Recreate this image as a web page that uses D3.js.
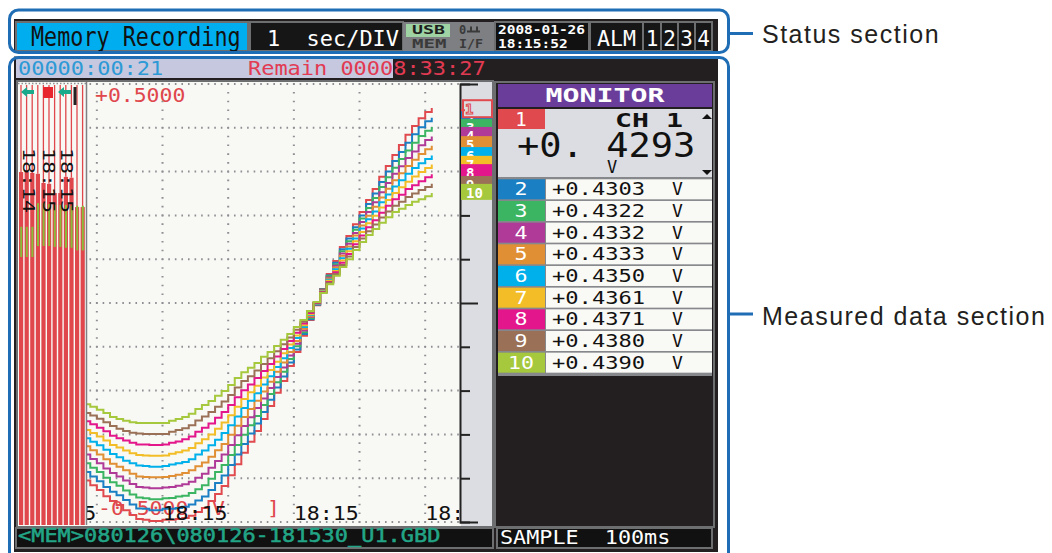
<!DOCTYPE html>
<html>
<head>
<meta charset="utf-8">
<script src="https://cdn.jsdelivr.net/npm/d3@7"></script>
<style>
  html, body { margin: 0; padding: 0; background: #fff; }
  svg { display: block; }
  text { white-space: pre; }
</style>
</head>
<body>
<svg id="chart" width="1052" height="553"></svg>
<script>
// ---- data (mV, one sample per 100 ms) ----
const channelNames = ["1", "2", "3", "4", "5", "6", "7", "8", "9", "10"];
const channelColors = ["#e04a4e", "#1b7fc4", "#3bb562", "#b03a98", "#e08f34",
	"#00b0ea", "#f2bd26", "#e4168b", "#9a7056", "#a5c83c"];

const ch1 = [-405,-416,-427,-441,-452,-461,-473,-484,-493,-495,-498,-498,-495,-495,-493,-491,-486,-477,-468,-452,-436,-418,-393,-368,-342,-317,-292,-265,-235,-205,-178,-144,-112,-75,-39,-5,32,66,96,128,153,180,208,235,260,288,313,338,361,384,404,422,436,445];
const ch2 = [-386,-396,-407,-420,-431,-439,-450,-460,-469,-470,-473,-473,-470,-470,-468,-465,-460,-451,-442,-427,-411,-394,-370,-346,-322,-298,-275,-249,-221,-193,-168,-136,-106,-71,-37,-4,31,63,92,123,147,173,200,226,250,276,300,324,345,366,385,401,415,423];
const ch3 = [-366,-376,-386,-399,-409,-417,-428,-437,-444,-446,-448,-448,-446,-445,-442,-440,-434,-425,-416,-401,-386,-370,-347,-324,-301,-279,-258,-233,-208,-181,-157,-128,-99,-67,-34,-3,30,61,88,118,141,167,193,217,240,265,287,309,329,348,366,381,393,402];
const ch4 = [-346,-356,-366,-378,-388,-396,-405,-413,-420,-421,-423,-423,-421,-420,-417,-414,-408,-399,-390,-376,-361,-346,-324,-302,-281,-261,-240,-218,-194,-169,-147,-120,-93,-63,-32,-3,29,58,85,113,135,160,185,208,230,253,274,295,312,331,346,360,372,380];
const ch5 = [-327,-336,-346,-357,-367,-374,-382,-390,-396,-397,-398,-398,-397,-395,-392,-388,-382,-373,-364,-351,-336,-322,-301,-280,-260,-242,-223,-202,-180,-157,-136,-112,-87,-59,-30,-2,28,56,81,108,129,154,177,199,220,241,261,280,296,313,327,340,351,359];
const ch6 = [-309,-317,-325,-335,-345,-352,-360,-366,-371,-372,-374,-374,-372,-369,-366,-363,-357,-346,-337,-325,-312,-297,-279,-259,-240,-223,-206,-186,-167,-146,-126,-103,-80,-55,-27,-1,27,53,77,102,124,147,170,191,209,230,248,266,280,295,308,319,329,337];
const ch7 = [-290,-297,-305,-314,-324,-330,-337,-343,-347,-348,-349,-349,-348,-344,-341,-337,-331,-320,-311,-300,-287,-273,-256,-237,-219,-204,-189,-170,-153,-134,-115,-95,-74,-51,-25,0,26,51,73,97,118,141,162,182,199,218,235,251,264,277,289,299,308,316];
const ch8 = [-270,-277,-285,-293,-303,-309,-314,-319,-323,-323,-324,-324,-323,-319,-316,-311,-305,-294,-285,-275,-262,-249,-233,-215,-199,-186,-171,-155,-139,-122,-105,-87,-68,-47,-23,0,25,48,70,92,112,134,154,173,189,206,222,237,247,260,269,278,287,294];
const ch9 = [-251,-257,-264,-272,-281,-287,-292,-296,-298,-299,-299,-299,-299,-294,-290,-286,-279,-268,-259,-249,-237,-225,-210,-193,-178,-167,-154,-139,-126,-110,-94,-79,-61,-43,-20,1,24,46,66,87,106,128,147,164,179,195,209,222,231,242,250,258,265,272];
const ch10 = [-231,-237,-244,-251,-260,-265,-269,-272,-274,-274,-274,-274,-274,-269,-265,-260,-253,-242,-233,-224,-212,-201,-187,-171,-158,-148,-137,-123,-112,-98,-84,-71,-55,-39,-18,2,23,43,62,82,100,121,139,155,169,183,196,208,215,224,231,237,244,251];
const traces = [ch1, ch2, ch3, ch4, ch5, ch6, ch7, ch8, ch9, ch10];

const sampleStart = -0.2;     // s, relative to the first grid line
const sampleInterval = 0.1;   // s  (SAMPLE 100ms)

const monitorValues = ["+0.4293", "+0.4303", "+0.4322", "+0.4332", "+0.4333",
	"+0.4350", "+0.4361", "+0.4371", "+0.4380", "+0.4390"];

// channel marker tags in the scale panel (mV of each tag's top)
const tagLevels = [463, 441, 420, 402, 381, 356, 336, 317, 290, 272];

// time ticks (s) and their label
const timeTicks = [-1, 1, 3, 5];
const timeLabel = "18:15";

// bar strip at the left of the graph (mV)
const stripeLevels = [299, 299, 297, 295, 274, 272, 251, 251, 288, 286, 219, 219];
const greenTops = [174, 174, 174, 228, 228, 226, 224, 224, 224, 222, 222, 222];
const greenBottoms = [105, 105, 105, 130, 130, 130, 128, 128, 126, 126, 120, 120];
const stripTimes = ["18:14", "18:15", "18:15"];

// ---------------------------------------------------------------------

const mono = "'DejaVu Sans Mono', 'Liberation Mono', monospace";
const sans = "'Liberation Sans', Arial, Helvetica, sans-serif";
const ink = "#231f20", frame = "#6d6e70", blue = "#1f6db5";

const svg = d3.select("#chart");

function label(g, str, x, y, o) {
	o = o || {};
	const t = g.append("text")
		.attr("x", x)
		.attr("y", y)
		.attr("font-family", o.family || mono)
		.attr("font-size", o.size || 19)
		.attr("font-weight", o.weight || "normal")
		.attr("fill", o.fill || "#000")
		.attr("text-anchor", o.anchor || "start")
		.text(str);
	if (o.adv)
		t.attr("textLength", str.length * o.adv).attr("lengthAdjust", "spacingAndGlyphs");
	return t;
}

function box(g, x, y, w, h, fill, stroke) {
	return g.append("rect")
		.attr("x", x).attr("y", y)
		.attr("width", w).attr("height", h)
		.attr("fill", fill)
		.attr("stroke", stroke || "none")
		.attr("stroke-width", stroke ? 2 : 0);
}

svg.append("rect").attr("width", 1052).attr("height", 553).attr("fill", "#fff");

const screen = svg.append("g");
box(screen, 14, 19, 704, 533, ink);

// ---- status row ----
box(screen, 16, 22, 232, 29, "#00aeef", frame);
label(screen, "Memory Recording", 31, 46, { size: 27, adv: 13.1, fill: "#111" });

box(screen, 250, 22, 153, 29, "#161616", frame);
label(screen, "1  sec/DIV", 267, 46, { size: 21, adv: 13.2, fill: "#fff" });

box(screen, 403, 22, 92, 29, "#7d7f82");
box(screen, 406, 24, 44, 13, "#9fd3a4");
label(screen, "USB", 412, 34, { size: 12, weight: "bold", adv: 11, fill: "#1e1e1e" });
label(screen, "MEM", 412, 48, { size: 12, weight: "bold", adv: 11.5, fill: "#3a3a3a" });
label(screen, "0", 459, 34, { size: 12, weight: "bold", fill: "#3a3a3a" });
screen.append("path")
	.attr("d", "M467,31.5h13M471,31.5v-5M477,31.5v-5")
	.attr("stroke", "#3a3a3a").attr("stroke-width", 2).attr("fill", "none");
label(screen, "I/F", 459, 48, { size: 12, weight: "bold", adv: 8, fill: "#3a3a3a" });

box(screen, 495, 22, 94, 29, "#111", frame);
label(screen, "2008-01-26", 498, 34, { size: 12, weight: "bold", adv: 8.7, fill: "#fff" });
label(screen, "18:15:52", 498, 48, { size: 12, weight: "bold", adv: 8.7, fill: "#fff" });

box(screen, 590, 22, 53, 29, "#161616", frame);
label(screen, "ALM", 597, 46, { size: 21, adv: 13, fill: "#fff" });
const almX = [643, 661, 678, 695, 712];
["1", "2", "3", "4"].forEach((d, i) => {
	box(screen, almX[i], 22, almX[i + 1] - almX[i], 29, "#161616", frame);
	label(screen, d, (almX[i] + almX[i + 1]) / 2, 46, { size: 21, fill: "#fff", anchor: "middle" });
});

// ---- elapsed / remain row ----
box(screen, 16, 59, 377, 19, "#c5c8df");
label(screen, "00000:00:21", 18, 75, { size: 19, adv: 13.2, fill: "#2d9ad6" });
label(screen, "Remain 00008:33:27", 248, 75, { size: 19, adv: 13.2, fill: "#e23a52" });

// ---- graph ----
const x = d3.scaleLinear().domain([-0.15, 5.53]).range([87, 460]);
const y = d3.scaleLinear().domain([-500, 500]).range([522, 84]);

box(screen, 17, 81, 476, 446, "#f8f8f5", frame);
box(screen, 461, 82, 31, 444, "#dcdde2");

svg.append("defs").append("clipPath").attr("id", "plotClip")
	.append("rect").attr("x", 87).attr("y", 82).attr("width", 372).attr("height", 443);

const plot = screen.append("g").attr("clip-path", "url(#plotClip)");

// dotted grid
const hLines = d3.range(-500, 501, 100);
const vLines = d3.range(0, 6);
plot.selectAll("line.h").data(hLines).enter().append("line")
	.attr("class", "h")
	.attr("x1", x(-0.1) - 0.8).attr("x2", 460)
	.attr("y1", d => y(d)).attr("y2", d => y(d))
	.attr("stroke", "#8e8f93").attr("stroke-width", 2)
	.attr("stroke-dasharray", "1.6 " + (x(0.1) - x(0) - 1.6));
plot.selectAll("line.v").data(vLines).enter().append("line")
	.attr("class", "v")
	.attr("x1", d => x(d)).attr("x2", d => x(d))
	.attr("y1", y(500) - 0.8).attr("y2", 524)
	.attr("stroke", "#8e8f93").attr("stroke-width", 2)
	.attr("stroke-dasharray", "1.6 " + (y(480) - y(500) - 1.6));

// range labels
label(plot, "+0.5000", 95, 102, { size: 19, adv: 12.9, fill: "#e0474c" });
label(plot, "-0.5000", 98, 515, { size: 19, adv: 12.9, fill: "#e0474c" });
label(plot, "V", 212, 515, { size: 19, adv: 12.9, fill: "#e0474c" });
label(plot, "]", 267, 515, { size: 19, adv: 12.9, fill: "#e0474c" });

// traces
const line = d3.line()
	.x((d, j) => x(sampleStart + j * sampleInterval))
	.y(d => y(d))
	.curve(d3.curveStepAfter);

plot.selectAll("path.trace").data(traces).enter().append("path")
	.attr("class", "trace")
	.attr("d", line)
	.attr("fill", "none")
	.attr("stroke", (d, i) => channelColors[i])
	.attr("stroke-width", 2);

// time labels
timeTicks.forEach(t => label(plot, timeLabel, x(t), 520, { size: 19, adv: 13, fill: "#111" }));

// scale axis on the right edge of the graph
const yAxis = d3.axisRight(y).tickValues(hLines).tickSize(10).tickFormat("");
const gAxis = screen.append("g").attr("transform", "translate(460,0)").call(yAxis);
gAxis.select(".domain").attr("stroke", "#222").attr("stroke-width", 2);
gAxis.selectAll(".tick line")
	.attr("stroke", "#222").attr("stroke-width", 2)
	.attr("x2", d => d % 500 === 0 ? 18 : 10);

// channel tags
const tagOrder = d3.range(1, 10).concat([0]);
tagOrder.forEach(i => {
	const ty = y(tagLevels[i]);
	if (i === 0) {
		box(screen, 463, ty, 29, 17, "#dcdde2").attr("stroke", channelColors[0]).attr("stroke-width", 2);
		box(screen, 461, ty + 9, 4, 2, channelColors[0]);
		label(screen, channelNames[0], 465, ty + 14, { size: 14, weight: "bold", fill: "none" })
			.attr("stroke", channelColors[0]).attr("stroke-width", 1);
	} else {
		box(screen, 461, ty, 31, 16, channelColors[i]);
		label(screen, channelNames[i], 466, ty + 14, { size: 14, weight: "bold", fill: "#fff" });
	}
});

// bar strip at the left
const strip = screen.append("g");
box(strip, 18, 82, 68, 444, "#f8f8f5");
strip.append("line")
	.attr("x1", 18).attr("x2", 86).attr("y1", 83.5).attr("y2", 83.5)
	.attr("stroke", "#8e8f93").attr("stroke-width", 1.5).attr("stroke-dasharray", "1.5 2");
stripeLevels.forEach((v, k) => {
	const sx = 19 + k * 5.6;
	strip.append("line")
		.attr("x1", sx + 2).attr("x2", sx + 2)
		.attr("y1", 85).attr("y2", y(v))
		.attr("stroke", "#e0474c").attr("stroke-width", 1.3);
	box(strip, sx, y(v), 4.2, 525 - y(v), "#e0474c");
	box(strip, sx + 1.2, y(greenTops[k]), 2, y(greenBottoms[k]) - y(greenTops[k]), "#8cbb3a");
});
strip.append("line")
	.attr("x1", 86.5).attr("x2", 86.5).attr("y1", 82).attr("y2", 525)
	.attr("stroke", "#7f8083").attr("stroke-width", 1.5);

// strip markers
strip.append("path").attr("d", "M21,92l6,-5v3h7v4h-7v3z").attr("fill", "#1aa98a");
box(strip, 43, 87, 10, 11, "#e8262d");
strip.append("path").attr("d", "M58,92l6,-5v3h7v4h-7v3z").attr("fill", "#1aa98a");
box(strip, 73.5, 87, 3, 18, "#222");

stripTimes.forEach((s, i) => {
	const tx = [23, 43, 61][i];
	label(strip, s, 0, 0, { size: 16, adv: 13, fill: "#111" })
		.attr("transform", `translate(${tx},148) rotate(90)`);
});

// ---- monitor panel ----
const mon = screen.append("g");
box(mon, 495, 82, 219, 445, ink, frame);
box(mon, 498, 84, 214, 23, "#6a3d9a");
label(mon, "MONITOR", 605, 102, { size: 20, weight: "bold", adv: 17, fill: "#fff", anchor: "middle" });

box(mon, 498, 109, 214, 68, "#dcdde2");
box(mon, 498, 109, 47, 20, channelColors[0]);
label(mon, channelNames[0], 521, 126, { size: 19, fill: "#fff", anchor: "middle" });
label(mon, "CH " + channelNames[0], 615, 127, { size: 19, weight: "bold", adv: 17, fill: "#111" });
mon.append("path").attr("d", "M702,119l5,-5l5,5z").attr("fill", "#111");
mon.append("path").attr("d", "M702,170l5,5l5,-5z").attr("fill", "#111");
label(mon, monitorValues[0].replace(".", ". "), 517, 157, { size: 34, adv: 22.3, fill: "#111" });
label(mon, "V", 607, 173, { size: 17, fill: "#111" });

box(mon, 498, 177, 214, 199, "#86888b");
for (let i = 1; i < 10; i++) {
	const ry = 179.3 + (i - 1) * 21.67;
	box(mon, 498, ry, 47, 20, channelColors[i]);
	box(mon, 546, ry, 166, 20, "#f9f9f6");
	label(mon, channelNames[i], 521, ry + 16, { size: 18, fill: "#fff", anchor: "middle" })
		.attr("textLength", channelNames[i].length * 13).attr("lengthAdjust", "spacingAndGlyphs");
	label(mon, monitorValues[i], 552, ry + 16, { size: 18, adv: 13.3, fill: "#111" });
	label(mon, "V", 672, ry + 16, { size: 18, fill: "#111" });
}

// ---- bottom row ----
box(screen, 16, 528, 477, 20, "#111", frame);
label(screen, "<MEM>080126\\080126-181530_U1.GBD", 18, 542, { size: 19, adv: 13.2, fill: "#22a586" })
	.attr("stroke", "#22a586").attr("stroke-width", 0.5);
box(screen, 497, 528, 215, 20, "#111", frame);
label(screen, "SAMPLE  100ms", 500, 544, { size: 19, adv: 13.1, fill: "#fff" });

// ---- callout brackets ----
const notes = svg.append("g");
notes.append("rect").attr("x", 11).attr("y", 52.5).attr("width", 716).attr("height", 4).attr("fill", "#fff");
notes.append("rect")
	.attr("x", 9.5).attr("y", 10).attr("width", 719).attr("height", 42.5).attr("rx", 9)
	.attr("fill", "none").attr("stroke", blue).attr("stroke-width", 3);
notes.append("rect")
	.attr("x", 9.5).attr("y", 57.5).attr("width", 719).attr("height", 520).attr("rx", 9)
	.attr("fill", "none").attr("stroke", blue).attr("stroke-width", 3);
notes.append("line").attr("x1", 729).attr("x2", 753).attr("y1", 33.5).attr("y2", 33.5)
	.attr("stroke", blue).attr("stroke-width", 3);
notes.append("line").attr("x1", 729).attr("x2", 753).attr("y1", 314).attr("y2", 314)
	.attr("stroke", blue).attr("stroke-width", 3);
label(notes, "Status section", 762, 43, { family: sans, size: 25, fill: "#231f20" })
	.attr("letter-spacing", 1.5);
label(notes, "Measured data section", 762, 325, { family: sans, size: 25, fill: "#231f20" })
	.attr("letter-spacing", 1.5);
</script>
</body>
</html>
